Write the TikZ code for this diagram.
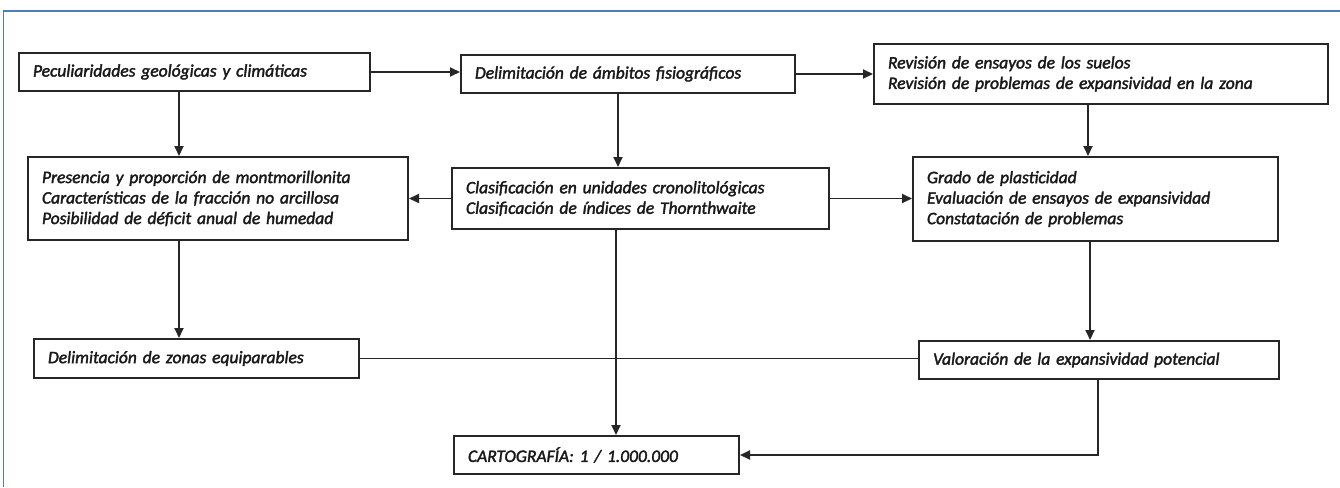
\documentclass[tikz,border=0pt]{standalone}
\usepackage{fontspec}
\setmainfont{Carlito}[ItalicFeatures={FakeBold=2,WordSpace=0.8}]
\usetikzlibrary{arrows.meta}
\definecolor{framecol}{HTML}{4F7DB5}
\definecolor{linecol}{HTML}{262626}
\begin{document}
\begin{tikzpicture}[x=1pt,y=-1pt,
  box/.style={draw=linecol, line width=2pt, fill=white, inner xsep=14pt, inner ysep=0pt,
    align=left, anchor=north west, text=black!90, font=\fontsize{17.5}{20.5}\selectfont\itshape},
  arr/.style={line width=1.9pt, draw=linecol, -{Triangle[length=10pt,width=9pt]}},
  ln/.style={line width=1.9pt, draw=linecol},
  frame/.style={draw=framecol, line width=1.6pt}]
\useasboundingbox (0,0) rectangle (1340,487);
\fill[white] (0,0) rectangle (1340,487);
\draw[frame] (3.5,487) -- (3.5,11) -- (1340,11);

\node[box, text width=323pt, minimum height=38pt] (A) at (18,52) {Peculiaridades geológicas y climáticas};
\node[box, text width=306pt, minimum height=38pt] (B) at (460,54) {Delimitación de ámbitos fisiográficos};
\node[box, text width=426pt, minimum height=60pt] (C) at (873,43) {Revisión de ensayos de los suelos\\Revisión de problemas de expansividad en la zona};
\node[box, text width=352pt, minimum height=83pt] (D) at (27,156) {Presencia y proporción de montmorillonita\\Características de la fracción no arcillosa\\Posibilidad de déficit anual de humedad};
\node[box, text width=349pt, minimum height=61pt] (E) at (451,167) {Clasificación en unidades cronolitológicas\\Clasificación de índices de Thornthwaite};
\node[box, text width=337pt, minimum height=84pt] (F) at (912,156) {Grado de plasticidad\\Evaluación de ensayos de expansividad\\Constatación de problemas};
\node[box, text width=297pt, minimum height=39pt] (G) at (33,338) {Delimitación de zonas equiparables};
\node[box, text width=257pt, minimum height=38pt] (H) at (453,435) {CARTOGRAFÍA: 1 / 1.000.000};
\node[box, text width=332pt, minimum height=38pt] (V) at (918,340) {Valoración de la expansividad potencial};

\path (A.south west) ++(161,0) coordinate (a1);
\path (B.south west) ++(158,0) coordinate (b1);
\path (C.south west) ++(215,0) coordinate (c1);
\path (D.south west) ++(152,0) coordinate (d1);
\path (E.south west) ++(165,0) coordinate (e1);
\path (F.south west) ++(178,0) coordinate (f1);
\path (V.south west) ++(180,0) coordinate (v1);

\draw[arr] (A.east) -- (A.east -| B.west);
\draw[arr] (B.east) -- (B.east -| C.west);
\draw[arr] (a1) -- (a1 |- D.north);
\draw[arr] (b1) -- (b1 |- E.north);
\draw[arr] (c1) -- (c1 |- F.north);
\draw[arr] (E.west) -- (E.west -| D.east);
\draw[arr] (E.east) -- (E.east -| F.west);
\draw[arr] (d1) -- (d1 |- G.north);
\draw[arr] (f1) -- (f1 |- V.north);
\draw[arr] (e1) -- (e1 |- H.north);
\draw[ln] (G.east) -- (G.east -| V.west);
\draw[arr] (v1) -- (v1 |- H.east) -- (H.east);
\end{tikzpicture}
\end{document}
